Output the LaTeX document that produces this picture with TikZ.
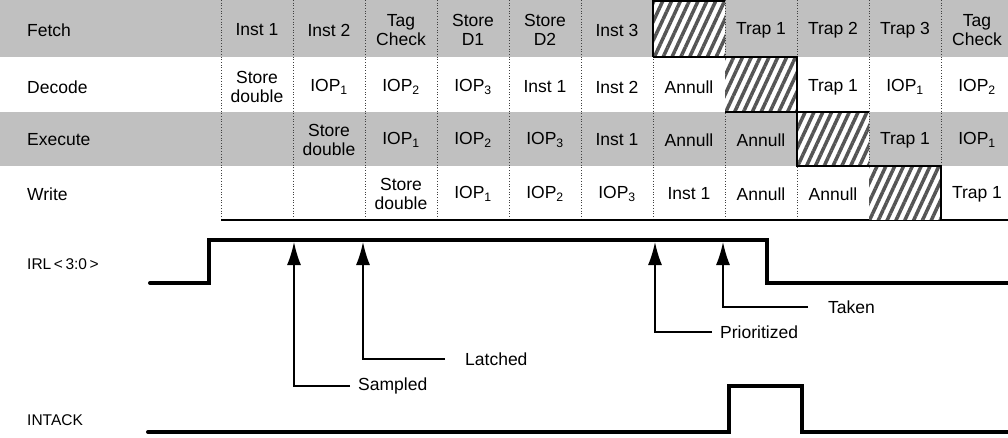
\documentclass[tikz,border=0pt]{standalone}
\usepackage{fontspec}
\setmainfont{Liberation Sans}
\usetikzlibrary{arrows.meta, positioning, patterns.meta}
\definecolor{bandgray}{RGB}{192,192,192}
\definecolor{hatchgray}{RGB}{85,85,85}

\begin{document}
\begin{tikzpicture}[
  x=1pt, y=-1pt,
  font=\fontsize{17.5}{19}\selectfont,
  cell/.style={align=center, inner sep=0pt},
  stage label/.style={anchor=west, inner sep=0pt},
  pin label/.style={anchor=west, inner sep=0pt, font=\fontsize{15.5}{17}\selectfont},
  band/.style={fill=bandgray},
  slot/.style={pattern={Lines[angle=65, distance=8pt, line width=3.5pt]}, pattern color=hatchgray},
  slot edge/.style={line width=2.5pt},
  col line/.style={dotted, line width=0.7pt, black!75},
  signal/.style={line width=4pt, line cap=round},
  event/.style={line width=1.6pt, -{Latex[length=23pt, width=14pt]}},
  event label/.style={anchor=west, inner ysep=0pt, inner xsep=8pt}
]
\useasboundingbox (0,0) rectangle (1008,438);
\def\colw{72}
% shaded pipeline stages
\fill[band] (0,0) rectangle (1008,57);
\fill[band] (0,112) rectangle (1008,166);
\foreach \k in {0,...,10}
  \draw[col line] ({221+\colw*\k},0) -- ({221+\colw*\k},220);
\draw[line width=2pt] (221,220) -- (1008,220);
% annulled slots
\foreach \c/\ya/\yb in {7/0/57, 8/57/112, 9/112/166, 10/166/220} {
  \fill[white] ({149+\colw*\c},\ya) rectangle ({221+\colw*\c},\yb);
  \fill[slot] ({149+\colw*\c},\ya) rectangle ({221+\colw*\c},\yb);
}
\draw[slot edge] (653,57) -- (653,1.25) -- (725,1.25);
\draw[slot edge] (653,57) -- (797,57) -- (797,166) -- (941,166) -- (941,220);
\draw[slot edge] (725,112) -- (869,112);

\foreach \y/\name in {30/Fetch, 87/Decode, 140/Execute, 194/Write}
  \node[stage label] (\name) at (27,\y) {\name};

\foreach \c/\txt in {1/Inst 1, 2/Inst 2, 3/Tag\\Check, 4/Store\\D1, 5/Store\\D2, 6/Inst 3,
    8/Trap 1, 9/Trap 2, 10/Trap 3, 11/Tag\\Check}
  \node[cell] (f\c) at ({185+\colw*\c},30) {\txt};
\foreach \c/\txt in {1/Store\\double, 2/IOP\textsubscript{1}, 3/IOP\textsubscript{2}, 4/IOP\textsubscript{3},
    5/Inst 1, 6/Inst 2, 7/Annull, 9/Trap 1, 10/IOP\textsubscript{1}, 11/IOP\textsubscript{2}}
  \node[cell] (d\c) at ({185+\colw*\c},87) {\txt};
\foreach \c/\txt in {2/Store\\double, 3/IOP\textsubscript{1}, 4/IOP\textsubscript{2}, 5/IOP\textsubscript{3},
    6/Inst 1, 7/Annull, 8/Annull, 10/Trap 1, 11/IOP\textsubscript{1}}
  \node[cell] (e\c) at ({185+\colw*\c},140) {\txt};
\foreach \c/\txt in {3/Store\\double, 4/IOP\textsubscript{1}, 5/IOP\textsubscript{2}, 6/IOP\textsubscript{3},
    7/Inst 1, 8/Annull, 9/Annull, 11/Trap 1}
  \node[cell] (w\c) at ({185+\colw*\c},194) {\txt};

% interrupt timing
\node[pin label] (irl) at (27,264) {IRL\,<\,3:0\,>};
\node[pin label] (intack) at (27,420) {INTACK};
\draw[signal] (150,283) -- (209,283) -- (209,240) -- (767,240) -- (767,283) -- (1008,283);
\draw[signal] (148,432) -- (729,432) -- (729,386) -- (802,386) -- (802,432) -- (1008,432);

\coordinate (sampleAt) at (294,242);
\coordinate (latchAt) at (363,242);
\coordinate (prioAt) at (655,242);
\coordinate (takenAt) at (723,242);
\node[event label] (sampled) at (350,386) {Sampled};
\node[event label, inner xsep=20pt] (latched) at (445,359) {Latched};
\node[event label] (prioritized) at (712,332) {Prioritized};
\node[event label, inner xsep=20pt] (taken) at (808,307) {Taken};
\draw[event] (sampled.west) -| (sampleAt);
\draw[event] (latched.west) -| (latchAt);
\draw[event] (prioritized.west) -| (prioAt);
\draw[event] (taken.west) -| (takenAt);
\end{tikzpicture}
\end{document}
